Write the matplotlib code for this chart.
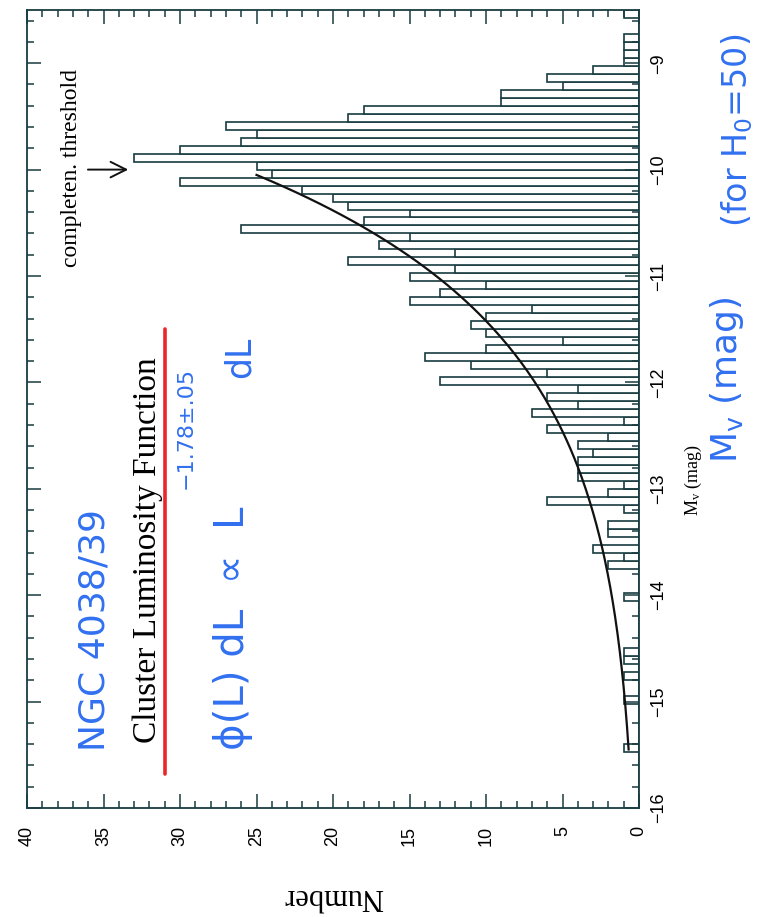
import matplotlib
matplotlib.use("Agg")
import matplotlib.pyplot as plt
import numpy as np
from matplotlib.ticker import MultipleLocator

# cluster counts in 0.075 mag bins, starting at Mv = -16 (faint end last)
bin_start = -16.0
bin_width = 0.075
counts = [
    0, 0, 0, 0, 0, 0, 0, 1, 0, 0,
    0, 0, 0, 1, 0, 0, 1, 0, 1, 1,
    0, 0, 0, 0, 0, 0, 1, 0, 0, 0,
    2, 1, 3, 0, 2, 2, 0, 1, 6, 2,
    1, 4, 4, 4, 3, 4, 2, 6, 1, 7,
    4, 6, 4, 13, 6, 11, 14, 10, 5, 10,
    11, 10, 7, 15, 13, 10, 15, 12, 19, 12,
    17, 15, 26, 18, 15, 19, 20, 22, 30, 24,
    25, 33, 30, 26, 25, 27, 19, 18, 9, 9,
    5, 6, 3, 1, 1, 1, 1, 0, 0, 1,
]

mv_ticks = [-16, -15, -14, -13, -12, -11, -10, -9]
number_ticks = [0, 5, 10, 15, 20, 25, 30, 35, 40]

# power-law fit curve: N = fit_n0 * 10**(fit_k * (M - fit_m0))
fit_m0 = -10.05
fit_n0 = 25.0
fit_k = 0.29
fit_bright = -15.45

W, H = 769, 917
fig = plt.figure(figsize=(W / 100, H / 100), dpi=100)
ax = fig.add_axes([27 / W, 1 - 808 / H, 612 / W, 798 / H])

edges = bin_start + bin_width * np.arange(len(counts))
ax.barh(edges, counts, height=bin_width, align="edge", color="white",
        edgecolor="#183c40", linewidth=1.2)

m = np.linspace(fit_bright, fit_m0, 200)
ax.plot(fit_n0 * 10 ** (fit_k * (m - fit_m0)), m, color="#111111", lw=1.6)

ax.set_xlim(40, 0)
ax.set_ylim(-16, -8.5)
ax.set_xticks(number_ticks)
ax.set_yticks(mv_ticks)
ax.xaxis.set_minor_locator(MultipleLocator(1))
ax.yaxis.set_minor_locator(MultipleLocator(0.2))
ax.tick_params(which="both", direction="in", top=True, bottom=True,
               left=True, right=True, color="#183c40", width=1.1)
ax.tick_params(which="major", length=10)
ax.tick_params(which="minor", length=5)
ax.tick_params(axis="x", labelrotation=90, labelsize=13, pad=13)
ax.tick_params(axis="y", labelleft=False, labelright=True,
               labelrotation=90, labelsize=13, pad=8)
for lab in ax.get_xticklabels() + ax.get_yticklabels():
    lab.set_family("Liberation Sans")
for lab in ax.get_yticklabels():
    lab.set_va("center")
for s in ax.spines.values():
    s.set_color("#183c40")
    s.set_linewidth(1.3)

ax.set_xlabel("Number", rotation=180, family="Liberation Serif",
              fontsize=22, labelpad=26)


def px(x, y):
    return x / W, 1 - y / H


blue = "#3170f0"
serif = "Liberation Serif"

fig.text(*px(693, 480), r"$\mathregular{M_v}$ (mag)", rotation=90,
         family=serif, fontsize=13, ha="center", va="center")
fig.text(*px(72, 168), "completen. threshold", rotation=90,
         family=serif, fontsize=17, ha="center", va="center")
ax.annotate("", xy=(33.2, -10.0), xytext=(36.2, -10.0),
            arrowprops=dict(arrowstyle="->", lw=1.4, mutation_scale=28,
                            color="#111111"))

fig.text(*px(148, 550), "Cluster Luminosity Function", rotation=90,
         family=serif, fontsize=24, ha="center", va="center")
ax.plot([31.0, 31.0], [-11.5, -15.68], color="#e8262c", lw=2.6,
        solid_capstyle="round")

fig.text(*px(95, 630), "NGC 4038/39", rotation=90, color=blue,
         fontsize=26, ha="center", va="center")
fig.text(*px(233, 628), "\u03d5(L) dL  \u221d  L", rotation=90, color=blue,
         fontsize=29, ha="center", va="center")
fig.text(*px(186, 428), "\u22121.78\u00b1.05", rotation=90, color=blue,
         fontsize=16, ha="center", va="center")
fig.text(*px(240, 357), "dL", rotation=90, color=blue,
         fontsize=25, ha="center", va="center")

fig.text(*px(727, 380), r"$\mathregular{M_v}$ (mag)", rotation=90,
         color=blue, fontsize=26, ha="center", va="center")
fig.text(*px(737, 130), r"(for $\mathregular{H_0}$=50)", rotation=90,
         color=blue, fontsize=24, ha="center", va="center")

fig.savefig("out.png", dpi=100, facecolor="white")
